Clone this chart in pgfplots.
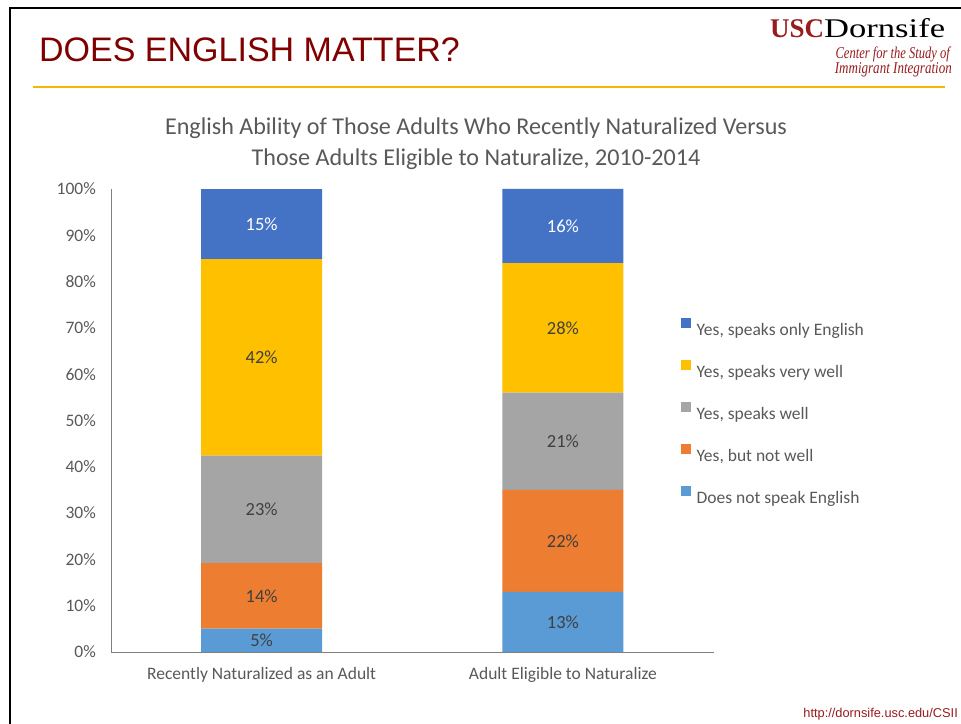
\documentclass[border=0pt]{standalone}
\usepackage{graphicx}
\usepackage{pgfplots}
\pgfplotsset{compat=1.18}
\usepackage{fontspec}
\setmainfont{Carlito}
\newfontfamily\arialfont{Liberation Sans}
\newfontfamily\timesfont{Liberation Serif}
\definecolor{c1}{RGB}{91,155,213}
\definecolor{c2}{RGB}{237,125,49}
\definecolor{c3}{RGB}{165,165,165}
\definecolor{c4}{RGB}{255,192,0}
\definecolor{c5}{RGB}{68,114,196}
\definecolor{txt}{RGB}{89,89,89}
\definecolor{lbl}{RGB}{64,64,64}
\definecolor{axgray}{RGB}{128,128,128}
\definecolor{darkred}{RGB}{128,0,0}
\definecolor{usc}{RGB}{153,27,30}
\definecolor{gold}{RGB}{245,184,0}
\begin{document}
\begin{tikzpicture}
\path[use as bounding box, fill=white] (0bp,0bp) rectangle (961bp,724bp);
\draw[line width=2.5bp] (10bp,0bp) -- (10bp,716bp) -- (961bp,716bp);
\node[anchor=base west, inner sep=0, text=darkred, font=\arialfont\fontsize{34bp}{40bp}\selectfont] at (39bp,662bp) {DOES ENGLISH MATTER?};
\draw[gold, line width=1.2bp] (33bp,637bp) -- (945bp,637bp);
\node[anchor=base west, inner sep=0, font=\timesfont\fontsize{27bp}{30bp}\selectfont] at (770bp,686bp) {{\bfseries\color{usc}USC}\scalebox{1.28}[1]{Dornsife}};
\node[anchor=base east, inner sep=0, text=usc, font=\timesfont\itshape\fontsize{16.5bp}{19bp}\selectfont] at (950bp,665bp) {\scalebox{0.76}[1]{Center for the Study of}};
\node[anchor=base east, inner sep=0, text=usc, font=\timesfont\itshape\fontsize{16.5bp}{19bp}\selectfont] at (952bp,650bp) {\scalebox{0.79}[1]{Immigrant Integration}};
\node[anchor=base, inner sep=0, text=txt, font=\fontsize{24.1bp}{28bp}\selectfont] at (476bp,589bp) {English Ability of Those Adults Who Recently Naturalized Versus};
\node[anchor=base, inner sep=0, text=txt, font=\fontsize{24.1bp}{28bp}\selectfont] at (476bp,558bp) {Those Adults Eligible to Naturalize, 2010-2014};
\node[anchor=base east, inner sep=0, text=usc, font=\arialfont\fontsize{12.8bp}{15bp}\selectfont] at (958bp,7bp) {http://dornsife.usc.edu/CSII};
\begin{axis}[
  at={(111bp,72bp)}, anchor=south west,
  scale only axis, width=602.5bp, height=463bp,
  xmin=-0.5, xmax=1.5, ymin=0, ymax=100,
  ybar stacked, bar width=121bp,
  axis lines*=left,
  axis line style={draw=axgray, line width=0.9bp},
  xtick={0,1},
  xticklabels={Recently Naturalized as an Adult, Adult Eligible to Naturalize},
  ytick={0,10,...,100},
  yticklabel={\pgfmathprintnumber{\tick}\%},
  major tick length=0,
  /pgf/number format/assume math mode=true,
  tick label style={text=txt, font=\fontsize{17.5bp}{21bp}\selectfont},
  yticklabel style={anchor=east, inner sep=0, xshift=-15bp},
  xticklabel style={anchor=north, inner sep=0, yshift=-15bp},
  point meta=explicit symbolic,
  nodes near coords,
  every node near coord/.append style={anchor=center, inner sep=0, text=lbl, font=\fontsize{18.5bp}{22bp}\selectfont},
  legend style={at={(0.946,0.721)}, anchor=north west, draw=none, fill=none, inner sep=0, row sep=21.5bp, column sep=6bp, text=txt, font=\fontsize{17.5bp}{21bp}\selectfont, nodes={inner sep=0, text height=12.5bp, text depth=3.5bp}},
  legend cell align=left,
  reverse legend,
  legend image code/.code={\fill[#1,draw=none] (0bp,3bp) rectangle (9.5bp,12.5bp);},
  clip=false
]
\addplot[fill=c1, draw=none] coordinates {(0,5.05) [5\%] (1,13) [13\%]};
\addplot[fill=c2, draw=none] coordinates {(0,14.14) [14\%] (1,22) [22\%]};
\addplot[fill=c3, draw=none] coordinates {(0,23.23) [23\%] (1,21) [21\%]};
\addplot[fill=c4, draw=none] coordinates {(0,42.42) [42\%] (1,28) [28\%]};
\addplot[fill=c5, draw=none, nodes near coords style={text=white}] coordinates {(0,15.15) [15\%] (1,16) [16\%]};
\legend{Does not speak English, {Yes, but not well}, {Yes, speaks well}, {Yes, speaks very well}, {Yes, speaks only English}}
\end{axis}
\end{tikzpicture}
\end{document}
